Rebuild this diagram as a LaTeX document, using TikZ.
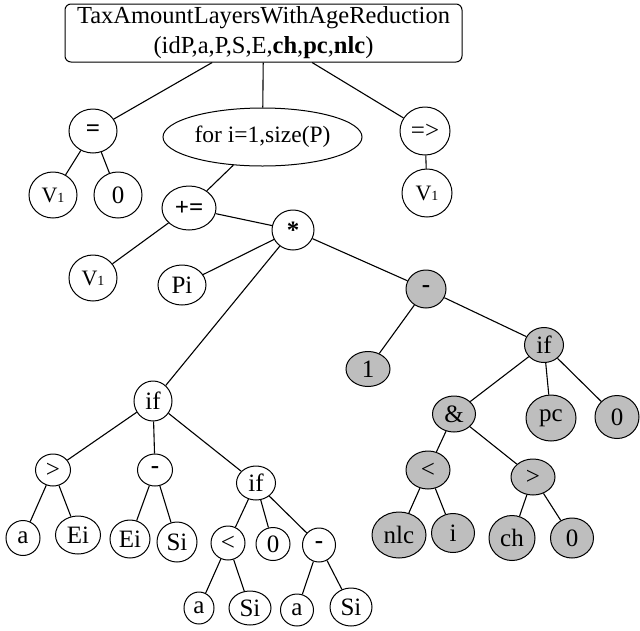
\documentclass[tikz,border=0pt]{standalone}
\usepackage{fontspec}
\setmainfont{Liberation Serif}
\usetikzlibrary{shapes.geometric}
\definecolor{nodegray}{RGB}{190,190,190}
\newcommand{\nodetext}{\fontsize{25}{27}\selectfont}
\newcommand{\vone}{{\fontsize{22}{24}\selectfont V}{\fontsize{14}{15}\selectfont 1}}
\tikzset{
  nd/.style={ellipse, draw=black, line width=1pt, inner sep=0pt, fill=white, font=\nodetext},
  gr/.style={nd, fill=nodegray},
  sz/.style 2 args={minimum width=#1pt, minimum height=#2pt},
  edge/.style={draw=black, line width=1.1pt},
}
\begin{document}
\begin{tikzpicture}[x=1pt, y=-1pt]
\useasboundingbox (0,0) rectangle (640,630);

% function header
\node[draw=black, line width=1pt, rounded corners=6pt, minimum width=397pt, minimum height=58pt,
      inner sep=0pt, align=center, font=\fontsize{24.5}{30}\selectfont, fill=white]
  (root) at (263.5,33) {TaxAmountLayersWithAgeReduction\\(idP,a,P,S,E,\textbf{ch},\textbf{pc},\textbf{nlc})};

% first level
\node[nd, sz={48}{44}] (eq)  at (93,131) {\textbf{=}};
\node[nd, sz={199}{58}, font=\fontsize{23.5}{25}\selectfont] (loop) at (262.5,137) {for i=1,size(P)};
\node[nd, sz={50}{48}] (imp) at (425,131) {=>};
\node[nd, sz={48}{46}] (va)  at (53,195) {\vone};
\node[nd, sz={48}{46}] (za)  at (118,195) {0};
\node[nd, sz={50}{48}] (vc)  at (427,193) {\vone};

% loop body
\node[nd, sz={54}{44}] (pe)  at (189,208) {\textbf{+=}};
\node[nd, sz={42}{40}] (tm)  at (293,230) {\textbf{*}};
\node[nd, sz={48}{46}] (vb)  at (93,278) {\vone};
\node[nd, sz={48}{40}] (pi)  at (182,285) {Pi};

% shaded branch
\node[gr, sz={40}{38}] (mg)  at (426,289) {\textbf{-}};
\node[gr, sz={44}{35}] (one) at (368,369) {1};
\node[gr, sz={39}{35}] (ifg) at (544,345) {if};
\node[gr, sz={43}{36}] (amp) at (454,414) {\&};
\node[gr, sz={50}{46}] (pc)  at (551,418) {pc};
\node[gr, sz={44}{43}] (zg)  at (617,417) {0};
\node[gr, sz={44}{38}] (ltg) at (428,470) {<};
\node[gr, sz={44}{36}] (gtg) at (533,477) {>};
\node[gr, sz={54}{46}] (nlc) at (399,535) {nlc};
\node[gr, sz={43}{39}] (ig)  at (453,533) {i};
\node[gr, sz={46}{45}] (ch)  at (512,538) {ch};
\node[gr, sz={43}{40}] (zh)  at (572,538) {0};

% white branch
\node[nd, sz={38}{40}] (ifw) at (153,401) {if};
\node[nd, sz={35}{32}] (gt)  at (53,470) {>};
\node[nd, sz={35}{32}] (mw)  at (155,470) {\textbf{-}};
\node[nd, sz={39}{34}] (ifx) at (256,483) {if};
\node[nd, sz={34}{35}] (aa)  at (23,538) {a};
\node[nd, sz={45}{38}] (ea)  at (78,535) {Ei};
\node[nd, sz={40}{38}] (eb)  at (130,539) {Ei};
\node[nd, sz={40}{40}] (sa)  at (177,542) {Si};
\node[nd, sz={34}{34}] (lt)  at (228,543) {<};
\node[nd, sz={34}{33}] (zb)  at (273,544) {0};
\node[nd, sz={33}{34}] (mx)  at (319,545) {\textbf{-}};
\node[nd, sz={30}{32}] (ab)  at (199,608) {a};
\node[nd, sz={42}{34}] (sb)  at (250,608) {Si};
\node[nd, sz={33}{32}] (ac)  at (297,610) {a};
\node[nd, sz={42}{38}] (sc)  at (351,607) {Si};

% connectors, centre to centre, clipped at the borders
\draw[edge] (root) -- (eq);
\draw[edge] (root) -- (loop);
\draw[edge] (root) -- (imp);
\draw[edge] (eq) -- (va);
\draw[edge] (eq) -- (za);
\draw[edge] (imp) -- (vc);
\draw[edge] (loop) -- (pe);
\draw[edge] (pe) -- (vb);
\draw[edge] (pe) -- (tm);
\draw[edge] (tm) -- (pi);
\draw[edge] (tm) -- (ifw);
\draw[edge] (tm) -- (mg);
\draw[edge] (mg) -- (one);
\draw[edge] (mg) -- (ifg);
\draw[edge] (ifg) -- (amp);
\draw[edge] (ifg) -- (pc);
\draw[edge] (ifg) -- (zg);
\draw[edge] (amp) -- (ltg);
\draw[edge] (amp) -- (gtg);
\draw[edge] (ltg) -- (nlc);
\draw[edge] (ltg) -- (ig);
\draw[edge] (gtg) -- (ch);
\draw[edge] (gtg) -- (zh);
\draw[edge] (ifw) -- (gt);
\draw[edge] (ifw) -- (mw);
\draw[edge] (ifw) -- (ifx);
\draw[edge] (gt) -- (aa);
\draw[edge] (gt) -- (ea);
\draw[edge] (mw) -- (eb);
\draw[edge] (mw) -- (sa);
\draw[edge] (ifx) -- (lt);
\draw[edge] (ifx) -- (zb);
\draw[edge] (ifx) -- (mx);
\draw[edge] (lt) -- (ab);
\draw[edge] (lt) -- (sb);
\draw[edge] (mx) -- (ac);
\draw[edge] (mx) -- (sc);
\end{tikzpicture}
\end{document}
